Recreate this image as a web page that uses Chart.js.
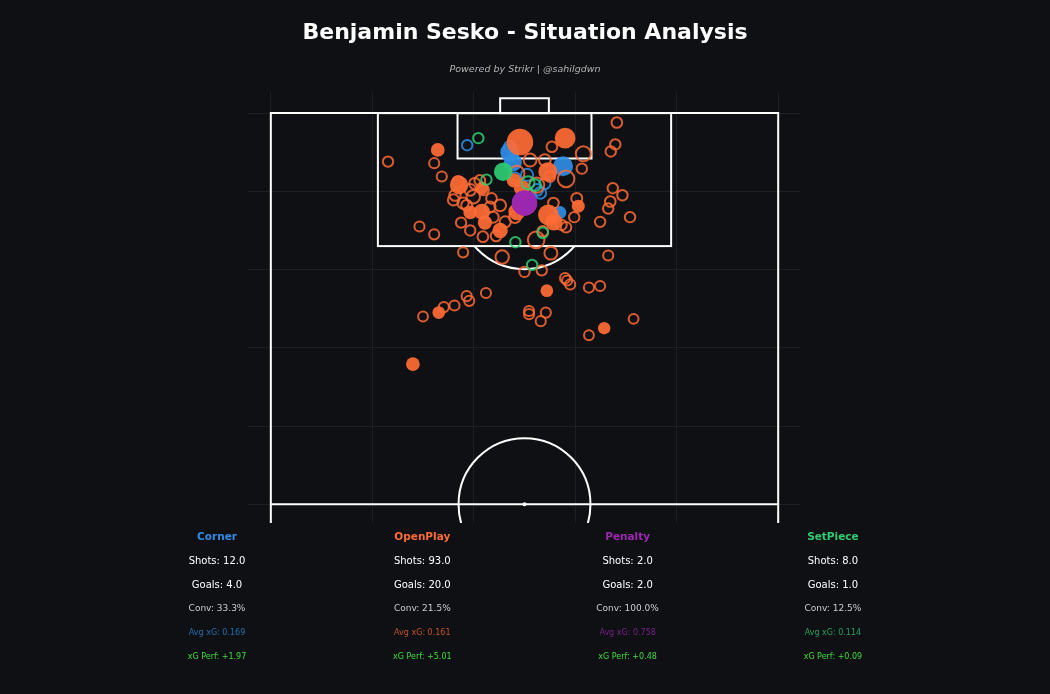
<!DOCTYPE html>
<html>
<head>
<meta charset="utf-8">
<script src="https://cdn.jsdelivr.net/npm/chart.js@4.4.0/dist/chart.umd.min.js"></script>
<style>
  html, body { margin: 0; padding: 0; background: #0e1013; }
  #wrap { width: 1050px; height: 694px; }
</style>
</head>
<body>
<div id="wrap"><canvas id="shotMap" width="1050" height="694"></canvas></div>
<script>
// shots: [pitch width pos (opta y), pitch length pos (opta x), xG, goal?]
const cornerShots = [
  [47.1, 95.0, 0.35, 1], [47.7, 93.7, 0.30, 1], [57.6, 93.2, 0.40, 1], [57.0, 87.3, 0.06, 1],
  [38.7, 95.9, 0.05, 0], [47.1, 95.7, 0.10, 0], [50.5, 92.1, 0.12, 0], [52.5, 90.2, 0.10, 0],
  [53.1, 89.8, 0.10, 0], [48.1, 91.7, 0.08, 0], [54.0, 91.0, 0.08, 0], [51.1, 89.5, 0.10, 0]
];

const openPlayShots = [
  // goals
  [49.1, 96.3, 0.85, 1], [58.0, 96.8, 0.45, 1], [32.9, 95.3, 0.10, 1], [54.6, 92.5, 0.35, 1],
  [47.9, 91.4, 0.12, 1], [37.1, 90.8, 0.32, 1], [41.6, 90.4, 0.07, 1], [41.6, 87.4, 0.20, 1],
  [42.2, 86.0, 0.12, 1], [54.7, 87.0, 0.45, 1], [48.5, 87.4, 0.25, 1], [60.6, 88.1, 0.07, 1],
  [45.2, 85.0, 0.17, 1], [54.4, 77.3, 0.06, 1], [33.1, 74.5, 0.06, 1], [65.7, 72.5, 0.05, 1],
  [28.0, 67.9, 0.10, 1], [49.5, 90.4, 0.20, 1], [55.8, 86.1, 0.25, 1], [39.3, 87.3, 0.10, 1],
  // misses
  [68.2, 98.8, 0.06, 0], [55.4, 95.7, 0.06, 0], [61.6, 94.8, 0.25, 0], [67.9, 96.0, 0.05, 0],
  [67.0, 95.1, 0.05, 0], [23.1, 93.8, 0.05, 0], [32.2, 93.6, 0.04, 0], [33.7, 91.9, 0.04, 0],
  [61.3, 92.9, 0.05, 0], [58.2, 91.6, 0.33, 0], [55.0, 91.9, 0.06, 0], [48.5, 92.3, 0.25, 0],
  [40.2, 91.0, 0.08, 0], [39.3, 90.2, 0.10, 0], [39.9, 89.3, 0.17, 0], [36.0, 88.9, 0.08, 0],
  [38.6, 88.2, 0.07, 0], [43.5, 89.1, 0.06, 0], [43.8, 86.7, 0.08, 0], [60.3, 89.1, 0.07, 0],
  [55.7, 88.5, 0.06, 0], [67.4, 90.4, 0.05, 0], [69.3, 89.5, 0.05, 0], [66.9, 88.7, 0.06, 0],
  [66.5, 87.8, 0.05, 0], [70.8, 86.7, 0.05, 0], [64.9, 86.1, 0.05, 0], [59.8, 86.7, 0.05, 0],
  [57.3, 85.7, 0.05, 0], [58.2, 85.4, 0.05, 0], [29.3, 85.5, 0.04, 0], [32.2, 84.5, 0.04, 0],
  [37.5, 86.0, 0.05, 0], [41.8, 84.2, 0.06, 0], [44.4, 84.3, 0.06, 0], [52.3, 83.8, 0.33, 0],
  [53.6, 84.9, 0.06, 0], [37.9, 82.2, 0.04, 0], [45.6, 81.6, 0.17, 0], [55.2, 82.1, 0.15, 0],
  [66.5, 81.8, 0.04, 0], [50.0, 79.7, 0.05, 0], [53.4, 79.9, 0.05, 0], [58.0, 78.9, 0.04, 0],
  [58.4, 78.6, 0.04, 0], [59.0, 78.1, 0.04, 0], [62.7, 77.7, 0.04, 0], [64.9, 77.9, 0.04, 0],
  [42.4, 77.0, 0.04, 0], [38.6, 76.6, 0.04, 0], [39.1, 76.0, 0.04, 0], [36.2, 75.4, 0.04, 0],
  [34.1, 75.2, 0.04, 0], [30.0, 74.0, 0.03, 0], [50.9, 74.7, 0.04, 0], [50.9, 74.3, 0.04, 0],
  [54.2, 74.5, 0.04, 0], [53.2, 73.4, 0.04, 0], [71.5, 73.7, 0.03, 0], [62.7, 71.6, 0.03, 0],
  [36.3, 89.5, 0.08, 0], [37.9, 88.5, 0.08, 0], [41.2, 91.4, 0.06, 0], [43.2, 88.0, 0.07, 0],
  [48.1, 86.7, 0.10, 0], [41.9, 90.2, 0.07, 0], [52.4, 90.8, 0.25, 0], [51.1, 94.0, 0.15, 0],
  [54.0, 94.0, 0.10, 0], [45.2, 88.2, 0.10, 0], [46.2, 86.1, 0.08, 0], [39.3, 85.0, 0.05, 0],
  [36.9, 91.2, 0.10, 0]
];

const penaltyShots = [
  [50.0, 88.5, 0.758, 1], [50.0, 88.5, 0.758, 1]
];

const setPieceShots = [
  [45.8, 92.5, 0.33, 1],
  [40.9, 96.8, 0.05, 0], [42.5, 91.5, 0.05, 0], [50.7, 91.1, 0.15, 0], [53.6, 84.7, 0.06, 0],
  [48.2, 83.5, 0.05, 0], [51.5, 80.6, 0.05, 0], [52.1, 90.8, 0.10, 0]
];

// summary table below the pitch
const situations = ['Corner', 'OpenPlay', 'Penalty', 'SetPiece'];
const situationColors = ['#2f8de4', '#ff6b35', '#9c27b0', '#2ecc71'];
const statShots = ['12.0', '93.0', '2.0', '8.0'];
const statGoals = ['4.0', '20.0', '2.0', '1.0'];
const statConv = ['33.3%', '21.5%', '100.0%', '12.5%'];
const statAvgXg = ['0.169', '0.161', '0.758', '0.114'];
const statXgPerf = ['+1.97', '+5.01', '+0.48', '+0.09'];

const xGridTicks = [0, 20, 40, 60, 80, 100];
const yGridTicks = [50, 60, 70, 80, 90, 100];

const BG = '#0e1013';
const FONT = '"DejaVu Sans", "Liberation Sans", sans-serif';

function rgba(hex, a) {
  const n = parseInt(hex.slice(1), 16);
  return `rgba(${(n >> 16) & 255}, ${(n >> 8) & 255}, ${n & 255}, ${a})`;
}

function sizeFor(xg) {
  return Math.sqrt(30 + 172 * xg);
}

function makeDataset(label, shots, color, order) {
  return {
    label: label,
    order: order,
    data: shots.map(s => ({ x: s[0], y: s[1] })),
    pointRadius: shots.map(s => s[3] ? sizeFor(s[2]) : sizeFor(s[2]) - 1),
    pointHoverRadius: shots.map(s => s[3] ? sizeFor(s[2]) : sizeFor(s[2]) - 1),
    pointBackgroundColor: shots.map(s => s[3] ? rgba(color, 0.92) : 'rgba(0,0,0,0)'),
    pointBorderColor: shots.map(s => rgba(color, s[3] ? 0.92 : 0.85)),
    pointBorderWidth: shots.map(s => s[3] ? 0 : 2),
    showLine: false
  };
}

const bgPlugin = {
  id: 'bg',
  beforeDraw(chart) {
    const ctx = chart.ctx;
    ctx.save();
    ctx.fillStyle = BG;
    ctx.fillRect(0, 0, chart.width, chart.height);
    ctx.restore();
  }
};

// opta pitch markings, vertical half
const pitchPlugin = {
  id: 'pitch',
  beforeDatasetsDraw(chart) {
    const { ctx, chartArea: a, scales: { x, y } } = chart;
    const px = v => x.getPixelForValue(v);
    const py = v => y.getPixelForValue(v);
    ctx.save();
    ctx.beginPath();
    ctx.rect(a.left, a.top, a.right - a.left, a.bottom - a.top);
    ctx.clip();
    ctx.strokeStyle = '#ffffff';
    ctx.lineWidth = 2;

    const rectLines = (x0, x1, y0, y1) => {
      ctx.strokeRect(px(x0), py(y1), px(x1) - px(x0), py(y0) - py(y1));
    };
    // sidelines (run past halfway, clipped)
    ctx.beginPath();
    ctx.moveTo(px(0), py(30)); ctx.lineTo(px(0), py(100)); ctx.lineTo(px(100), py(100)); ctx.lineTo(px(100), py(30));
    ctx.stroke();
    // halfway line
    ctx.beginPath();
    ctx.moveTo(px(0), py(50)); ctx.lineTo(px(100), py(50));
    ctx.stroke();
    rectLines(21.1, 78.9, 83, 100);
    rectLines(36.8, 63.2, 94.2, 100);
    rectLines(45.2, 54.8, 100, 101.9);

    const rx = px(63.0) - px(50);
    const ry = py(50) - py(58.45);
    // centre circle + spot
    ctx.beginPath();
    ctx.ellipse(px(50), py(50), rx, ry, 0, 0, Math.PI * 2);
    ctx.stroke();
    ctx.beginPath();
    ctx.fillStyle = '#ffffff';
    ctx.arc(px(50), py(50), 2, 0, Math.PI * 2);
    ctx.fill();
    // penalty arc outside box
    ctx.save();
    ctx.beginPath();
    ctx.rect(a.left, py(83) + 1, a.right - a.left, a.bottom - py(83));
    ctx.clip();
    ctx.beginPath();
    ctx.ellipse(px(50), py(88.5), rx, ry, 0, 0, Math.PI * 2);
    ctx.stroke();
    ctx.restore();

    ctx.restore();
  }
};

const textPlugin = {
  id: 'texts',
  afterDraw(chart) {
    const ctx = chart.ctx;
    ctx.save();
    ctx.textAlign = 'center';
    ctx.textBaseline = 'middle';
    ctx.fillStyle = '#ffffff';
    ctx.font = `bold 22px ${FONT}`;
    ctx.fillText('Benjamin Sesko - Situation Analysis', 525, 33);
    ctx.fillStyle = '#b4b4b4';
    ctx.font = `italic 9.5px ${FONT}`;
    ctx.fillText('Powered by Strikr | @sahilgdwn', 525, 70);

    situations.forEach((name, i) => {
      const cx = 217 + i * 205.3;
      const col = situationColors[i];
      ctx.fillStyle = col;
      ctx.font = `bold 10.5px ${FONT}`;
      ctx.fillText(name, cx, 537);
      ctx.fillStyle = '#ffffff';
      ctx.font = `10px ${FONT}`;
      ctx.fillText(`Shots: ${statShots[i]}`, cx, 561);
      ctx.fillText(`Goals: ${statGoals[i]}`, cx, 585);
      ctx.fillStyle = '#cccccc';
      ctx.font = `9px ${FONT}`;
      ctx.fillText(`Conv: ${statConv[i]}`, cx, 609);
      ctx.fillStyle = rgba(col, 0.75);
      ctx.font = `8px ${FONT}`;
      ctx.fillText(`Avg xG: ${statAvgXg[i]}`, cx, 633);
      ctx.fillStyle = '#3fdc3f';
      ctx.fillText(`xG Perf: ${statXgPerf[i]}`, cx, 657);
    });
    ctx.restore();
  }
};

const gridColor = '#1c1f23';

new Chart(document.getElementById('shotMap'), {
  type: 'scatter',
  data: {
    datasets: [
      makeDataset('Corner', cornerShots, situationColors[0], 4),
      makeDataset('OpenPlay', openPlayShots, situationColors[1], 3),
      makeDataset('Penalty', penaltyShots, situationColors[2], 2),
      makeDataset('SetPiece', setPieceShots, situationColors[3], 1)
    ]
  },
  options: {
    responsive: false,
    devicePixelRatio: 1,
    animation: false,
    layout: { padding: { left: 248, right: 250, top: 92, bottom: 171 } },
    scales: {
      x: {
        type: 'linear', min: -4.5, max: 104.3,
        afterBuildTicks: s => { s.ticks = xGridTicks.map(v => ({ value: v })); },
        ticks: { display: false },
        grid: { color: gridColor, lineWidth: 1, drawTicks: false },
        border: { display: false }
      },
      y: {
        type: 'linear', min: 47.6, max: 102.7,
        afterBuildTicks: s => { s.ticks = yGridTicks.map(v => ({ value: v })); },
        ticks: { display: false },
        grid: { color: gridColor, lineWidth: 1, drawTicks: false },
        border: { display: false }
      }
    },
    plugins: {
      legend: { display: false },
      tooltip: { enabled: false }
    }
  },
  plugins: [bgPlugin, pitchPlugin, textPlugin]
});
</script>
</body>
</html>
